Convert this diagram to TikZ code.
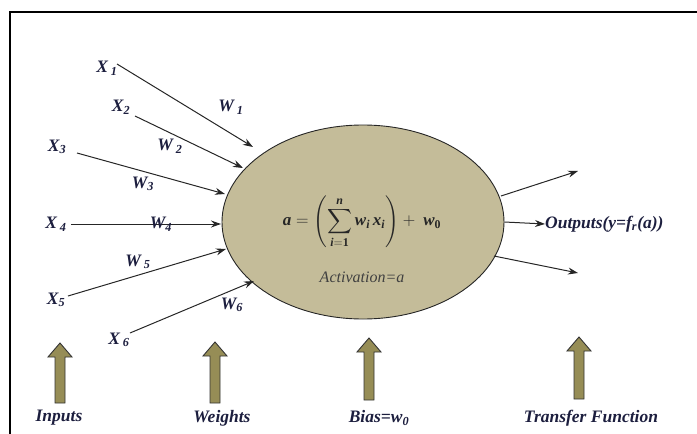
\documentclass[tikz,border=0pt]{standalone}
\usepackage{amsmath}
\usepackage{fontspec}
\setmainfont{Liberation Serif}
\usetikzlibrary{arrows.meta,shapes.geometric}
\definecolor{bodyfill}{RGB}{196,188,153}
\definecolor{fatfill}{RGB}{150,141,86}
\definecolor{txt}{RGB}{28,30,62}
\newcommand{\bivar}[1]{\text{\bfseries\itshape #1}}
\newcommand{\actformula}{$\displaystyle \bivar{a}=\left(\sum_{\bivar{i}=\mathbf{1}}^{\bivar{n}} \bivar{w}_{\bivar{i}}\,\bivar{x}_{\bivar{i}}\right)+\ \bivar{w}_{\mathbf{0}}$}
\newcommand{\fatup}[4]{% cx, top, bottom, name
  \draw[fatstyle] (#1-5,#3) -- (#1-5,#2+14) -- (#1-12,#2+14) -- (#1,#2) -- (#1+12,#2+14) -- (#1+5,#2+14) -- (#1+5,#3) -- cycle;
  \coordinate (#4) at (#1,#2);}
\tikzset{
  lbl/.style={font=\fontsize{17.5}{20}\selectfont\bfseries\itshape, text=txt, inner sep=0pt},
  wire/.style={draw=black!85, line width=1pt, -{Stealth[length=10pt,width=7pt]}},
  fatstyle/.style={draw=black!80, line width=0.9pt, fill=fatfill, line join=miter},
}
\begin{document}
\begin{tikzpicture}[x=1pt,y=-1pt]
\useasboundingbox (0,0) rectangle (697,434);
\draw[line width=1.5pt] (697,12) -- (10,12) -- (10,434);
% body
\node[ellipse, draw=black!85, line width=0.9pt, fill=bodyfill, minimum width=282pt, minimum height=194pt, inner sep=0pt] (body) at (363,222) {};
\node[inner sep=0pt, text=black!85, font=\fontsize{17}{20}\selectfont] (formula) at (362,222) {\actformula};
\node[inner sep=0pt, text=black!75, font=\fontsize{16}{18}\selectfont\itshape] (act) at (362,277) {Activation=a};
% inputs
\node[lbl] (x1) at (107,68) {X\,\textsubscript{1}};
\node[lbl] (x2) at (121,107) {X\textsubscript{2}};
\node[lbl] (x3) at (57,147) {X\textsubscript{3}};
\node[lbl] (x4) at (56,224) {X\,\textsubscript{4}};
\node[lbl] (x5) at (56,300) {X\textsubscript{5}};
\node[lbl] (x6) at (119,340) {X\,\textsubscript{6}};
\coordinate (t1) at (253,147);
\coordinate (t2) at (243,168);
\coordinate (t3) at (225,194);
\coordinate (t4) at (221,224);
\coordinate (t5) at (226,249);
\coordinate (t6) at (254,281);
\draw[wire] (117,64) -- (t1);
\draw[wire] (135,116) -- (t2);
\draw[wire] (77,153) -- (t3);
\draw[wire] (x4.east) ++(4,0) -- (t4);
\draw[wire] (68,296) -- (t5);
\draw[wire] (130,333) -- (t6);
\node[lbl] (w1) at (231,107) {W\,\textsubscript{1}};
\node[lbl] (w2) at (170,146) {W\,\textsubscript{2}};
\node[lbl] (w3) at (143,184) {W\textsubscript{3}};
\node[lbl] (w4) at (161,224) {W\textsubscript{4}};
\node[lbl] (w5) at (138,262) {W\,\textsubscript{5}};
\node[lbl] (w6) at (232,305) {W\textsubscript{6}};
% outputs
\coordinate (o1) at (578,171);
\coordinate (o3) at (578,273);
\node[lbl, anchor=west] (out) at (545,224) {Outputs(y=f\textsubscript{r}(a))};
\draw[wire] (501,196) -- (o1);
\draw[wire] (body.east) -- (out.west);
\draw[wire] (494,256) -- (o3);
% fat arrows
\fatup{60}{343}{403}{fa1}
\fatup{215}{342}{403}{fa2}
\fatup{369}{338}{400}{fa3}
\fatup{579}{337}{399}{fa4}
\node[lbl] (inp) at (59,418) {Inputs};
\node[lbl] (wts) at (222,418) {Weights};
\node[lbl] (bias) at (379,418) {Bias=w\textsubscript{0}};
\node[lbl] (tf) at (591,418) {Transfer Function};
\end{tikzpicture}
\end{document}
